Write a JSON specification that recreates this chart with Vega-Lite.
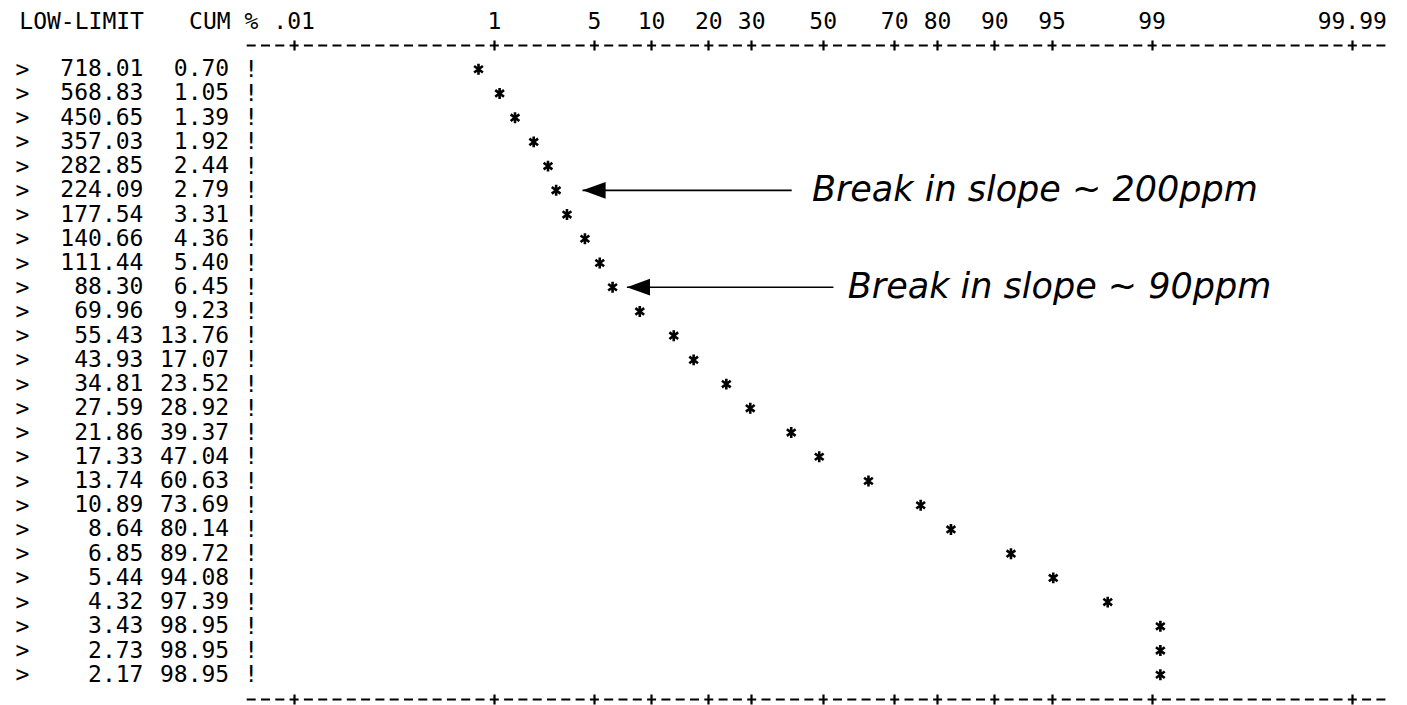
{
  "$schema": "https://vega.github.io/schema/vega-lite/v6.json",
  "width": 1407,
  "height": 654,
  "autosize": {"type": "none"},
  "padding": {"left": 0, "top": 45, "right": 0, "bottom": 6},
  "background": "white",
  "config": {"view": {"stroke": null}, "axis": {"grid": false, "title": null}},
  "datasets": {
    "rows": [
      {"low": 718.01, "cum": 0.70},
      {"low": 568.83, "cum": 1.05},
      {"low": 450.65, "cum": 1.39},
      {"low": 357.03, "cum": 1.92},
      {"low": 282.85, "cum": 2.44},
      {"low": 224.09, "cum": 2.79},
      {"low": 177.54, "cum": 3.31},
      {"low": 140.66, "cum": 4.36},
      {"low": 111.44, "cum": 5.40},
      {"low": 88.30, "cum": 6.45},
      {"low": 69.96, "cum": 9.23},
      {"low": 55.43, "cum": 13.76},
      {"low": 43.93, "cum": 17.07},
      {"low": 34.81, "cum": 23.52},
      {"low": 27.59, "cum": 28.92},
      {"low": 21.86, "cum": 39.37},
      {"low": 17.33, "cum": 47.04},
      {"low": 13.74, "cum": 60.63},
      {"low": 10.89, "cum": 73.69},
      {"low": 8.64, "cum": 80.14},
      {"low": 6.85, "cum": 89.72},
      {"low": 5.44, "cum": 94.08},
      {"low": 4.32, "cum": 97.39},
      {"low": 3.43, "cum": 98.95},
      {"low": 2.73, "cum": 98.95},
      {"low": 2.17, "cum": 98.95}
    ],
    "notes": [
      {"low": 224.09, "tip": 4.2, "tail": 39.5, "at": 45, "note": "Break in slope ~ 200ppm"},
      {"low": 88.30, "tip": 7.8, "tail": 51, "at": 55, "note": "Break in slope ~ 90ppm"}
    ]
  },
  "data": {"name": "rows"},
  "resolve": {"scale": {"x": "independent"}, "axis": {"y": "independent"}},
  "layer": [
    {
      "encoding": {
        "y": {
          "field": "low", "type": "ordinal", "sort": "descending",
          "scale": {"type": "point", "padding": 1},
          "axis": {
            "orient": "left", "offset": -250.75, "labelExpr": "'!'", "labelAlign": "center",
            "labelPadding": 0, "ticks": false, "tickSize": 0, "domain": false,
            "labelFont": "DejaVu Sans Mono", "labelFontSize": 23, "labelColor": "black",
            "labelOverlap": false, "title": null
          }
        }
      },
      "layer": [
        {
          "mark": {"type": "point", "shape": "M0,-1L0,1M-0.8,-0.6L0.8,0.6M-0.8,0.6L0.8,-0.6", "filled": false, "stroke": "black", "strokeWidth": 2.6, "size": 120, "opacity": 1},
          "encoding": {
            "x": {
              "field": "cum", "type": "quantitative", "axis": null,
              "scale": {
                "type": "linear", "zero": false, "nice": false,
                "domain": [0.5,0.7,0.85,1,1.25,1.5,1.75,2,2.5,3,3.5,4,5,6,7,8,10,12,14,16,18,20,25,30,35,40,45,50,55,60,65,70,75,80,82,84,86,88,90,92,93,94,95,96,97,97.5,98,98.5,99,99.5],
                "range": [461.5,478.5,488.6,497.2,509.3,519.5,528.4,536.2,549.6,560.9,570.7,579.5,594.6,607.5,618.8,628.9,646.6,661.8,675.4,687.6,698.9,709.5,733.4,754.9,774.8,793.6,811.9,829.85,847.8,866.1,884.9,904.8,926.3,950.2,960.8,972.1,984.3,997.9,1013.1,1030.8,1040.9,1052.2,1065.1,1080.2,1098.9,1110.2,1123.6,1140.2,1162.6,1198.2]
              }
            }
          }
        },
        {
          "data": {"name": "notes"},
          "mark": {"type": "rule", "strokeWidth": 1.6, "color": "black"},
          "encoding": {
            "x": {"field": "tip", "type": "quantitative", "axis": null},
            "x2": {"field": "tail"}
          }
        },
        {
          "data": {"name": "notes"},
          "mark": {"type": "point", "shape": "M0,0L2.2,-0.8L2.2,0.8Z", "filled": true, "color": "black", "size": 441, "opacity": 1},
          "encoding": {
            "x": {"field": "tip", "type": "quantitative", "axis": null}
          }
        },
        {
          "data": {"name": "notes"},
          "mark": {"type": "text", "align": "left", "baseline": "middle", "font": "DejaVu Sans", "fontStyle": "italic", "fontWeight": 200, "fontSize": 35, "color": "black"},
          "encoding": {
            "x": {"field": "at", "type": "quantitative", "axis": null},
            "text": {"field": "note"}
          }
        }
      ]
    },
    {
      "transform": [{"fold": ["low", "cum"], "as": ["col", "val"]}],
      "mark": {"type": "text", "align": "right", "baseline": "middle", "font": "DejaVu Sans Mono", "fontSize": 23, "color": "black"},
      "encoding": {
        "x": {
          "field": "col", "type": "nominal",
          "scale": {"type": "point", "domain": ["low", "cum"], "range": [143.45, 229.2], "padding": 0},
          "axis": {
            "orient": "top", "labelExpr": "datum.value == 'low' ? 'LOW-LIMIT' : 'CUM %'",
            "labelAngle": 0, "labelAlign": "right",
            "labelOffset": {"condition": {"test": "datum.value == 'low'", "value": 0}, "value": 28.6},
            "labelBaseline": "middle", "labelPadding": 24,
            "ticks": false, "tickSize": 0, "domain": false,
            "labelFont": "DejaVu Sans Mono", "labelFontSize": 23, "labelColor": "black",
            "labelOverlap": false, "title": null
          }
        },
        "y": {
          "field": "low", "type": "ordinal", "sort": "descending",
          "scale": {"type": "point", "padding": 1},
          "axis": {
            "orient": "left", "offset": -21.9, "labelExpr": "'>'", "labelAlign": "center",
            "labelPadding": 0, "ticks": false, "tickSize": 0, "domain": false,
            "labelFont": "DejaVu Sans Mono", "labelFontSize": 23, "labelColor": "black",
            "labelOverlap": false, "title": null
          }
        },
        "text": {"field": "val", "type": "quantitative", "format": ".2f"}
      }
    },
    {
      "mark": {"type": "point", "opacity": 0},
      "encoding": {
        "x": {
          "field": "cum", "type": "quantitative",
          "scale": {"type": "linear", "zero": false, "nice": false,
            "domain": [0.001,0.01,1,5,10,20,30,50,70,80,90,95,99,99.99,99.999],
            "range": [243.55,293.6,493.8,593.9,651.1,708.3,751.2,822.7,894.2,937.1,994.3,1051.5,1151.6,1351.8,1387.55]},
          "axis": {
            "orient": "top", "values": [0.01,1,5,10,20,30,50,70,80,90,95,99,99.99],
            "labelExpr": "replace('' + datum.value, '0.', '.')",
            "labelFont": "DejaVu Sans Mono", "labelFontSize": 23, "labelColor": "black",
            "labelFlush": false, "labelOverlap": false, "labelBaseline": "middle", "labelPadding": 19,
            "tickSize": 5, "tickWidth": 2.2, "tickColor": "black",
            "domainColor": "black", "domainWidth": 2.2, "domainDash": [9, 5.3], "domainDashOffset": 11.65,
            "grid": false, "title": null
          }
        },
        "y": {"field": "low", "type": "ordinal", "sort": "descending", "scale": {"type": "point", "padding": 1}, "axis": null}
      }
    },
    {
      "mark": {"type": "point", "opacity": 0},
      "encoding": {
        "x": {
          "field": "cum", "type": "quantitative",
          "scale": {"type": "linear", "zero": false, "nice": false,
            "domain": [0.001,0.01,1,5,10,20,30,50,70,80,90,95,99,99.99,99.999],
            "range": [243.55,293.6,493.8,593.9,651.1,708.3,751.2,822.7,894.2,937.1,994.3,1051.5,1151.6,1351.8,1387.55]},
          "axis": {
            "orient": "top", "offset": -5, "values": [0.01,1,5,10,20,30,50,70,80,90,95,99,99.99],
            "labels": false, "domain": false,
            "tickSize": 5, "tickWidth": 2.2, "tickColor": "black",
            "grid": false, "title": null
          }
        },
        "y": {"field": "low", "type": "ordinal", "sort": "descending", "scale": {"type": "point", "padding": 1}, "axis": null}
      }
    },
    {
      "mark": {"type": "point", "opacity": 0},
      "encoding": {
        "x": {
          "field": "cum", "type": "quantitative",
          "scale": {"type": "linear", "zero": false, "nice": false,
            "domain": [0.001,0.01,1,5,10,20,30,50,70,80,90,95,99,99.99,99.999],
            "range": [243.55,293.6,493.8,593.9,651.1,708.3,751.2,822.7,894.2,937.1,994.3,1051.5,1151.6,1351.8,1387.55]},
          "axis": {
            "orient": "bottom", "values": [0.01,1,5,10,20,30,50,70,80,90,95,99,99.99],
            "labels": false,
            "tickSize": 5, "tickWidth": 2.2, "tickColor": "black",
            "domainColor": "black", "domainWidth": 2.2, "domainDash": [9, 5.3], "domainDashOffset": 11.65,
            "grid": false, "title": null
          }
        },
        "y": {"field": "low", "type": "ordinal", "sort": "descending", "scale": {"type": "point", "padding": 1}, "axis": null}
      }
    },
    {
      "mark": {"type": "point", "opacity": 0},
      "encoding": {
        "x": {
          "field": "cum", "type": "quantitative",
          "scale": {"type": "linear", "zero": false, "nice": false,
            "domain": [0.001,0.01,1,5,10,20,30,50,70,80,90,95,99,99.99,99.999],
            "range": [243.55,293.6,493.8,593.9,651.1,708.3,751.2,822.7,894.2,937.1,994.3,1051.5,1151.6,1351.8,1387.55]},
          "axis": {
            "orient": "bottom", "offset": -5, "values": [0.01,1,5,10,20,30,50,70,80,90,95,99,99.99],
            "labels": false, "domain": false,
            "tickSize": 5, "tickWidth": 2.2, "tickColor": "black",
            "grid": false, "title": null
          }
        },
        "y": {"field": "low", "type": "ordinal", "sort": "descending", "scale": {"type": "point", "padding": 1}, "axis": null}
      }
    }
  ]
}
